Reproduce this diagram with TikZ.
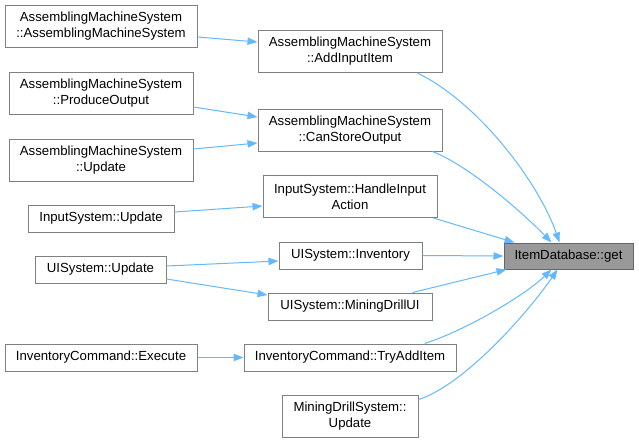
\documentclass[tikz,border=0pt]{standalone}
\usepackage{fontspec}
\setmainfont{Liberation Sans}
\usetikzlibrary{arrows.meta}
\definecolor{edgec}{HTML}{63B8FF}
\definecolor{boxc}{HTML}{808080}
\definecolor{getfill}{HTML}{999999}
\definecolor{getdraw}{HTML}{666666}
\begin{document}
\begin{tikzpicture}[x=0.75pt,y=-0.75pt,
  fn/.style={draw=boxc,line width=0.75pt,fill=white,inner sep=0pt,align=center,
    font=\fontsize{9.9}{12}\selectfont,minimum height=#1},
  fn/.default=31.5pt,
  hl/.style={fn=19.5pt,draw=getdraw,fill=getfill},
  call/.style={draw=edgec,line width=0.75pt,-{Triangle[length=7.5pt,width=5.5pt]}}]
\useasboundingbox (0,0) rectangle (639,443);
% left column
\node[fn,minimum width=144pt] (n1) at (101,26.5) {AssemblingMachineSystem\\::AssemblingMachineSystem};
\node[fn,minimum width=138pt] (n2) at (101,93.5) {AssemblingMachineSystem\\::ProduceOutput};
\node[fn,minimum width=138pt] (n3) at (101,160) {AssemblingMachineSystem\\::Update};
\node[fn=20.25pt,minimum width=109.5pt] (n4) at (101,218.5) {InputSystem::Update};
\node[fn=20.25pt,minimum width=98.25pt] (n5) at (100.5,269.5) {UISystem::Update};
\node[fn=20.25pt,minimum width=144pt] (n6) at (101,357.5) {InventoryCommand::Execute};
% middle column
\node[fn,minimum width=138pt] (m1) at (350,51.5) {AssemblingMachineSystem\\::AddInputItem};
\node[fn,minimum width=138pt] (m2) at (350,130) {AssemblingMachineSystem\\::CanStoreOutput};
\node[fn,minimum width=130.5pt] (m3) at (350,196.5) {InputSystem::HandleInput\\Action};
\node[fn=20.25pt,minimum width=107.25pt] (m4) at (350.5,255.5) {UISystem::Inventory};
\node[fn=20.25pt,minimum width=123pt] (m5) at (350,306.5) {UISystem::MiningDrillUI};
\node[fn=20.25pt,minimum width=159pt] (m6) at (350,357.5) {InventoryCommand::TryAddItem};
\node[fn,minimum width=102pt] (m7) at (350,416) {MiningDrillSystem::\\Update};
% target
\node[hl,minimum width=96.75pt] (g) at (568.5,256) {ItemDatabase::get};
% left edges
\draw[call] ([shift={(0,10.5)}]n1.east) -- ([shift={(0,-9.5)}]m1.west);
\draw[call] ([shift={(0,13.5)}]n2.east) -- ([shift={(0,-13)}]m2.west);
\draw[call] ([shift={(0,-11)}]n3.east) -- ([shift={(0,13)}]m2.west);
\draw[call] ([shift={(0,-6.5)}]n4.east) -- ([shift={(0,9.5)}]m3.west);
\draw[call] ([shift={(0,-3.5)}]n5.east) -- ([shift={(0,5.5)}]m4.west);
\draw[call] ([shift={(0,9.5)}]n5.east) -- ([shift={(0,-11.5)}]m5.west);
\draw[call] (n6.east) -- (m6.west);
% right edges
\draw[call] ([shift={(-25,0)}]m1.south east) .. controls +(63,31) and +(-20,-58) .. ([shift={(56,0)}]g.north west);
\draw[call] ([shift={(-10,0)}]m2.south east) .. controls +(38,15) and +(-27,-28) .. ([shift={(48,0)}]g.north west);
\draw[call] ([shift={(-4,0)}]m3.south east) -- ([shift={(11,0)}]g.north west);
\draw[call] (m4.east) -- (g.west);
\draw[call] ([shift={(-20,0)}]m5.north east) -- ([shift={(3,0)}]g.south west);
\draw[call] ([shift={(-32,0)}]m6.north east) .. controls +(41,-13) and +(-27,26) .. ([shift={(48,0)}]g.south west);
\draw[call] ([shift={(0,5)}]m7.north east) .. controls +(47,-15) and +(-28,41) .. ([shift={(54,0)}]g.south west);
\end{tikzpicture}
\end{document}
